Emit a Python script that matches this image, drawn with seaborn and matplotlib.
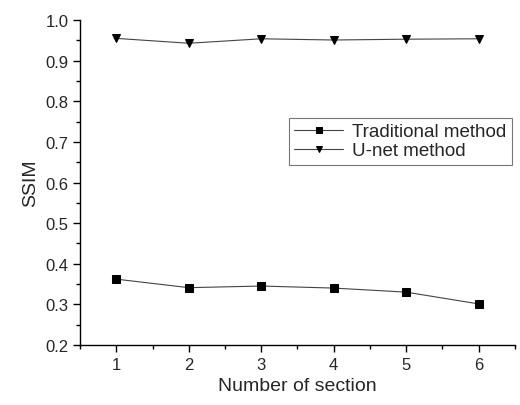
import pandas as pd
import matplotlib.pyplot as plt
import seaborn as sns
from matplotlib.ticker import MultipleLocator

# --- DATA ---
sections = [1, 2, 3, 4, 5, 6]
traditional = [0.362, 0.341, 0.345, 0.340, 0.330, 0.301]
unet = [0.955, 0.943, 0.954, 0.951, 0.953, 0.954]
methods = ["Traditional method", "U-net method"]

df = pd.concat([
    pd.DataFrame({"section": sections, "SSIM": traditional, "method": methods[0]}),
    pd.DataFrame({"section": sections, "SSIM": unet, "method": methods[1]}),
])

sns.set_theme(style="ticks")
plt.rcParams['font.family'] = ['Liberation Sans', 'DejaVu Sans']

fig = plt.figure(figsize=(5.2, 4.06), dpi=100)
ax = fig.add_axes([0.154, 0.148, 0.836, 0.8])

sns.lineplot(data=df, x="section", y="SSIM", hue="method", style="method",
             markers={methods[0]: "s", methods[1]: "v"}, dashes=False,
             palette={methods[0]: "black", methods[1]: "black"},
             linewidth=0.8, markersize=5.5, markeredgecolor="black", ax=ax)
for ln in ax.lines:
    ln.set_color("#444444")
    ln.set_markerfacecolor("black")

ax.set_xlim(0.5, 6.5)
ax.set_ylim(0.2, 1.0)
ax.xaxis.set_major_locator(MultipleLocator(1))
ax.xaxis.set_minor_locator(MultipleLocator(0.5))
ax.yaxis.set_major_locator(MultipleLocator(0.1))
ax.yaxis.set_minor_locator(MultipleLocator(0.05))
ax.set_yticklabels([f"{v:.1f}" for v in ax.get_yticks()])
ax.tick_params(which="major", direction="out", length=5, width=1, labelsize=12, color="black")
ax.tick_params(which="minor", direction="out", length=3, width=1, color="black")
sns.despine(ax=ax)
for s in ["left", "bottom"]:
    ax.spines[s].set_color("black")
    ax.spines[s].set_linewidth(1)

ax.set_xlabel("Number of section", fontsize=14)
ax.set_ylabel("SSIM", fontsize=14)

leg = ax.legend(loc="upper left", bbox_to_anchor=(0.48, 0.70), fontsize=13.5,
                frameon=True, fancybox=False, handlelength=2.6, borderpad=0.3,
                labelspacing=0.1, handletextpad=0.5, borderaxespad=0)
leg.get_frame().set_edgecolor("#555555")
leg.get_frame().set_linewidth(0.8)
for h in leg.legend_handles:
    h.set_markersize(5)
    h.set_color("#444444")
    h.set_markerfacecolor("black")

fig.savefig("out.png", dpi=100)
